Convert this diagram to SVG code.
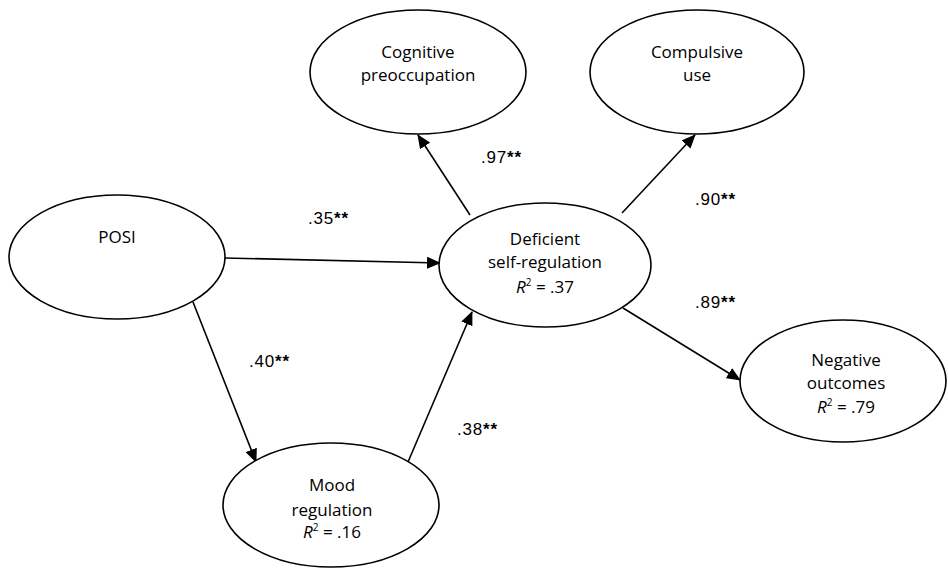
<svg xmlns="http://www.w3.org/2000/svg" width="948" height="577" viewBox="0 0 948 577">
  <defs>
    <marker id="arrow" markerUnits="userSpaceOnUse" markerWidth="14" markerHeight="12" refX="13" refY="6" orient="auto">
      <path d="M0,0 L14,6 L0,12 Z" fill="#000"/>
    </marker>
    <style>
      .node ellipse { fill: #fff; stroke: #000; stroke-width: 1.6; }
      .node text { font-family: "Open Sans", "Liberation Sans", sans-serif; font-size: 17px; fill: #000; text-anchor: middle; }
      .label { font-family: "Liberation Sans", Arial, sans-serif; font-size: 17px; letter-spacing: 0.8px; fill: #000; }
      .label .star { font-weight: bold; }
      .edge { stroke: #000; stroke-width: 1.6; fill: none; marker-end: url(#arrow); }
      .sup { font-size: 10px; }
    </style>
  </defs>
  <rect width="948" height="577" fill="#fff"/>

  <g id="connectors">
    <line class="edge" x1="225" y1="258" x2="440" y2="263"/>
    <line class="edge" x1="193" y1="302" x2="256" y2="462"/>
    <line class="edge" x1="408" y1="462" x2="472" y2="312"/>
    <line class="edge" x1="470" y1="215" x2="418" y2="135"/>
    <line class="edge" x1="622" y1="213" x2="695" y2="135"/>
    <line class="edge" x1="623" y1="308" x2="740" y2="380"/>
  </g>

  <g id="posi" class="node">
    <ellipse cx="117" cy="257" rx="108" ry="62"/>
    <text x="117" y="243">POSI</text>
  </g>

  <g id="cognitive" class="node">
    <ellipse cx="418" cy="72" rx="108" ry="62"/>
    <text x="418" y="58">Cognitive</text>
    <text x="418" y="81">preoccupation</text>
  </g>

  <g id="compulsive" class="node">
    <ellipse cx="697" cy="72" rx="107" ry="62"/>
    <text x="697" y="58">Compulsive</text>
    <text x="697" y="81">use</text>
  </g>

  <g id="deficient" class="node">
    <ellipse cx="545" cy="265" rx="106" ry="62"/>
    <text x="545" y="245">Deficient</text>
    <text x="545" y="268">self-regulation</text>
    <text x="545" y="293"><tspan font-style="italic">R</tspan><tspan class="sup" dy="-7">2</tspan><tspan dy="7"> = .37</tspan></text>
  </g>

  <g id="negative" class="node">
    <ellipse cx="843" cy="381" rx="103" ry="61"/>
    <text x="846" y="366">Negative</text>
    <text x="846" y="389">outcomes</text>
    <text x="846" y="413"><tspan font-style="italic">R</tspan><tspan class="sup" dy="-7">2</tspan><tspan dy="7"> = .79</tspan></text>
  </g>

  <g id="mood" class="node">
    <ellipse cx="331" cy="505" rx="108" ry="62"/>
    <text x="332" y="491">Mood</text>
    <text x="332" y="516">regulation</text>
    <text x="332" y="538"><tspan font-style="italic">R</tspan><tspan class="sup" dy="-7">2</tspan><tspan dy="7"> = .16</tspan></text>
  </g>

  <g id="labels">
    <text class="label" x="308" y="224">.35<tspan class="star">**</tspan></text>
    <text class="label" x="481" y="163">.97<tspan class="star">**</tspan></text>
    <text class="label" x="695" y="205">.90<tspan class="star">**</tspan></text>
    <text class="label" x="695" y="308">.89<tspan class="star">**</tspan></text>
    <text class="label" x="249" y="367">.40<tspan class="star">**</tspan></text>
    <text class="label" x="457" y="435">.38<tspan class="star">**</tspan></text>
  </g>
</svg>
